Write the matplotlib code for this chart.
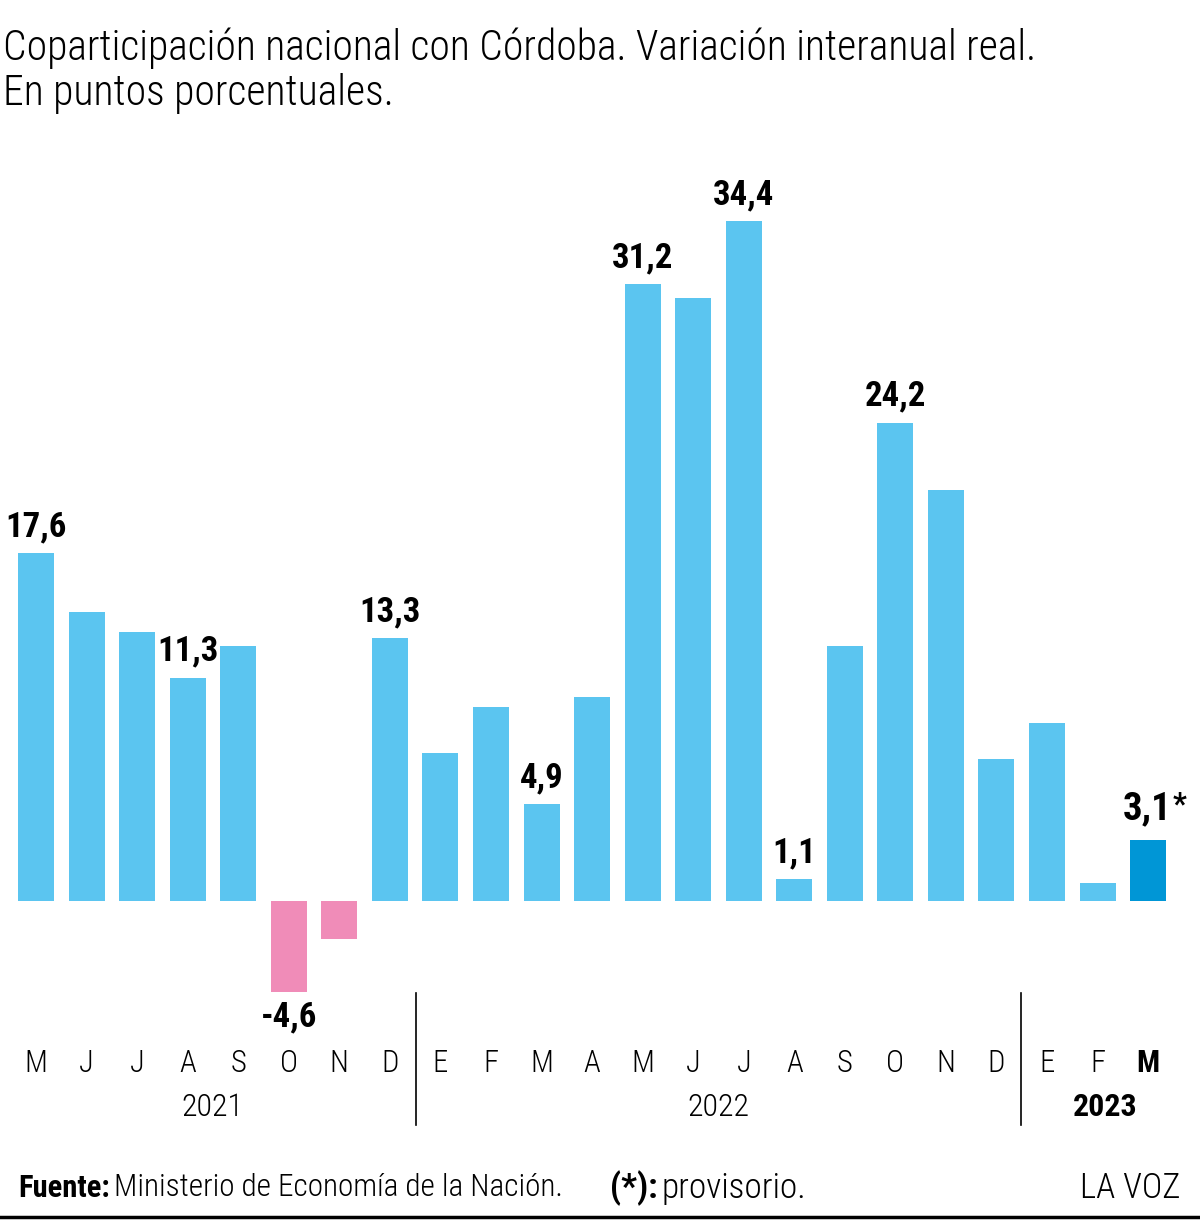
import matplotlib
matplotlib.use('Agg')
import matplotlib.pyplot as plt
from matplotlib import font_manager

months = ['M', 'J', 'J', 'A', 'S', 'O', 'N', 'D',
          'E', 'F', 'M', 'A', 'M', 'J', 'J', 'A', 'S', 'O', 'N', 'D',
          'E', 'F', 'M']
values = [17.6, 14.6, 13.6, 11.3, 12.9, -4.6, -1.9, 13.3,
          7.5, 9.8, 4.9, 10.3, 31.2, 30.5, 34.4, 1.1, 12.9, 24.2, 20.8, 7.2,
          9.0, 0.9, 3.1]
labels = {0: '17,6', 3: '11,3', 5: '-4,6', 7: '13,3', 10: '4,9', 12: '31,2',
          14: '34,4', 15: '1,1', 17: '24,2'}
years = ['2021', '2022', '2023']
year_spans = [(0, 7), (8, 19), (20, 22)]

names = {f.name for f in font_manager.fontManager.ttflist}
FONT = [n for n in ['Roboto Condensed', 'Liberation Sans Narrow', 'Open Sans', 'DejaVu Sans'] if n in names]
plt.rcParams['font.family'] = FONT

BLUE, PINK, DARK = '#5bc5f0', '#f08cb8', '#0096d6'

fig = plt.figure(figsize=(12, 12.21), dpi=100)
ax = fig.add_axes([0, 1 - 1000/1221, 1, 850/1221])
step = 50.55
colors = [PINK if v < 0 else BLUE for v in values]
colors[-1] = DARK
ax.bar(range(len(values)), values, width=36/step, color=colors)
ax.set_xlim(-36/step, -36/step + 1200/step)
ax.set_ylim(-99/19.77, 751/19.77)
ax.axis('off')

for i, t in labels.items():
    v = values[i]
    if v >= 0:
        ax.annotate(t, (i, v), xytext=(0, 7), textcoords='offset points',
                    ha='center', va='bottom', fontsize=25, fontweight='bold')
    else:
        ax.annotate(t, (i, v), xytext=(0, -6), textcoords='offset points',
                    ha='center', va='top', fontsize=25, fontweight='bold')
ax.annotate('3,1', (22, values[22]), xytext=(-1, 9), textcoords='offset points',
            ha='center', va='bottom', fontsize=28, fontweight='heavy')
ax.annotate('*', (22, values[22]), xytext=(23, 36), textcoords='offset points',
            ha='center', va='top', fontsize=22, fontweight='heavy')

# month and year labels below the chart
for i, m in enumerate(months):
    bold = i == len(months) - 1
    fig.text((36 + i*step)/1200, 1 - 1063/1221, m, ha='center', va='center',
             fontsize=22, fontweight='bold' if bold else 'light')
for (a, b), y in zip(year_spans, years):
    cx = 36 + (a + b)/2*step
    if y == '2023':
        cx = 1105
    fig.text(cx/1200, 1 - 1107/1221, y, ha='center', va='center', fontsize=23,
             fontweight='bold' if y == '2023' else 'light')
for xs in [415.5, 1021]:
    fig.add_artist(plt.Line2D([xs/1200]*2, [1 - 993/1221, 1 - 1125/1221], color='black', lw=1.2))

fig.text(3/1200, 1 - 48/1221, 'Coparticipación nacional con Córdoba. Variación interanual real.',
         ha='left', va='center', fontsize=30, fontweight='light')
fig.text(3/1200, 1 - 94/1221, 'En puntos porcentuales.', ha='left', va='center',
         fontsize=30, fontweight='light')

# footer, pieces placed one after another
renderer = fig.canvas.get_renderer()
def chain(x, s, w, size, gap=4):
    t = fig.text(x/1200, 1 - 1188/1221, s, ha='left', va='center', fontsize=size, fontweight=w)
    bb = t.get_window_extent(renderer)
    return bb.x1 + gap
x = chain(18, 'Fuente:', 'bold', 22)
chain(x, 'Ministerio de Economía de la Nación.', 'light', 22.5)
x = chain(610, '(*):', 'bold', 25)
chain(x, 'provisorio.', 'light', 25.5)
fig.text(1180/1200, 1 - 1188/1221, 'LA VOZ', ha='right', va='center', fontsize=25, fontweight='light')
fig.add_artist(plt.Line2D([0, 1], [1 - 1217/1221]*2, color='black', lw=2.5))

fig.savefig('out.png', dpi=100)
